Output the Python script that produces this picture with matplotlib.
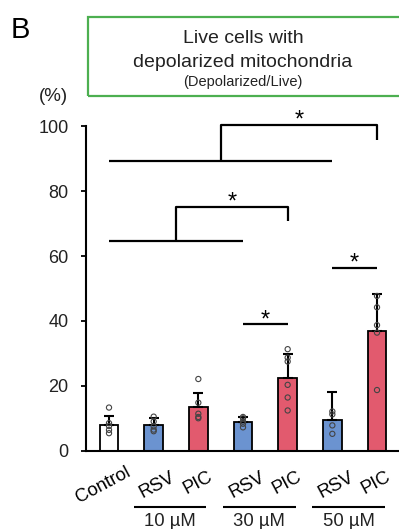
import matplotlib
matplotlib.use("Agg")
import matplotlib.pyplot as plt
import matplotlib.transforms as mtransforms
from matplotlib.patches import Rectangle
import numpy as np

plt.rcParams['font.family'] = ['Liberation Sans', 'DejaVu Sans']

# ---- data ----
labels = ["Control", "RSV", "PIC", "RSV", "PIC", "RSV", "PIC"]
means = [7.9, 7.9, 13.4, 8.9, 22.5, 9.5, 37.0]
err_upper = [10.7, 10.0, 17.9, 10.3, 29.8, 18.0, 48.3]
points = [
    [13.3, 8.5, 7.6, 6.4, 5.4],
    [10.5, 9.0, 7.5, 6.5, 6.0],
    [22.1, 14.8, 11.4, 10.4, 10.0],
    [10.4, 10.0, 9.0, 8.3, 7.2],
    [31.3, 28.7, 27.5, 20.3, 16.4, 12.4],
    [12.1, 11.2, 7.8, 5.2],
    [47.7, 44.2, 38.7, 36.4, 18.7],
]
bar_colors = ["#FFFFFF", "#6B93D0", "#E25A6E", "#6B93D0", "#E25A6E", "#6B93D0", "#E25A6E"]
groups = ["10 \u00b5M", "30 \u00b5M", "50 \u00b5M"]
group_members = [(1, 2), (3, 4), (5, 6)]
yticks = [0, 20, 40, 60, 80, 100]
# significance brackets: nested: (base_x1, base_x2, base_y, top_x2, top_y, drop_y)
nested = [(0, 5, 89.3, 6, 100.4, 95.9), (0, 3, 64.7, 4, 75.2, 70.9)]
simple = [(5, 6, 56.4), (3, 4, 39.0)]

W, H = 399, 529
fig = plt.figure(figsize=(W / 100, H / 100), dpi=100)
ax = fig.add_axes([86 / W, (H - 450.7) / H, (398 - 86) / W, (450.7 - 126.3) / H])

x = np.arange(len(labels))
ax.bar(x, means, width=0.42, color=bar_colors, edgecolor="black", linewidth=1.3, zorder=2)
for i in range(len(x)):
    ax.errorbar([x[i]], [means[i]], yerr=[[0], [err_upper[i] - means[i]]], fmt="none",
                ecolor="black", elinewidth=1.5, capsize=3.6, capthick=1.5, zorder=3)
    ax.scatter(np.full(len(points[i]), x[i]), points[i], s=14, facecolors="none",
               edgecolors="#444444", linewidths=0.8, zorder=4)

ax.set_xlim(-0.515, 6.47)
ax.set_ylim(0, 100)
ax.set_yticks(yticks)
ax.set_xticks([])
ax.tick_params(axis="y", direction="out", length=3.6, width=1.3, pad=9, labelsize=13,
               labelcolor="#222222")
for s in ["top", "right"]:
    ax.spines[s].set_visible(False)
for s in ["left", "bottom"]:
    ax.spines[s].set_linewidth(1.5)

# brackets
lw = 1.6
for (a, b, yb, c, yt, yd) in nested:
    m = (a + b) / 2
    ax.plot([a, b], [yb, yb], color="black", lw=lw, clip_on=False, solid_capstyle="butt")
    ax.plot([m, m, c, c], [yb, yt, yt, yd], color="black", lw=lw, clip_on=False,
            solid_capstyle="butt")
    ax.text((m + c) / 2, yt - 0.6, "*", ha="center", va="baseline", fontsize=17,
            clip_on=False)
for (a, b, yy) in simple:
    ax.plot([a, b], [yy, yy], color="black", lw=lw, clip_on=False, solid_capstyle="butt")
    ax.text((a + b) / 2, yy - 0.6, "*", ha="center", va="baseline", fontsize=17,
            clip_on=False)

# x labels
trans = mtransforms.blended_transform_factory(ax.transData, fig.transFigure)
for i, lab in enumerate(labels):
    off = 0.2 if lab == "PIC" else 0.37
    ypx = 463.5 if lab == "Control" else 468.5
    ax.text(x[i] + off, (H - ypx) / H, lab, transform=trans, rotation=28,
            ha="right", va="top", rotation_mode="anchor", fontsize=13.3, color="black")

for g, (a, b) in zip(groups, group_members):
    x1, x2 = a - 0.45, b + 0.18
    ax.plot([x1, x2], [(H - 506.7) / H] * 2, transform=trans, color="black", lw=1.5,
            clip_on=False, solid_capstyle="butt")
    ax.text((x1 + x2) / 2, (H - 525.5) / H, g, transform=trans, ha="center",
            va="baseline", fontsize=13.3, color="#222222")

# title box
fig.patches.append(Rectangle((88 / W, (H - 96) / H), (404 - 88) / W, (96 - 17.3) / H,
                             transform=fig.transFigure, fill=False, edgecolor="#4CAF50",
                             linewidth=1.6))
fig.text(243 / W, (H - 43.3) / H, "Live cells with", ha="center", va="baseline",
         fontsize=14, color="#222222")
fig.text(243 / W, (H - 66.7) / H, "depolarized mitochondria", ha="center", va="baseline",
         fontsize=14, color="#222222")
fig.text(243 / W, (H - 86) / H, "(Depolarized/Live)", ha="center", va="baseline",
         fontsize=10.5, color="#222222")
fig.text(11 / W, (H - 37.5) / H, "B", ha="left", va="baseline", fontsize=21, color="black")
fig.text(53 / W, (H - 101) / H, "(%)", ha="center", va="baseline", fontsize=13.5,
         color="#222222")

fig.savefig("out.png", dpi=100)
